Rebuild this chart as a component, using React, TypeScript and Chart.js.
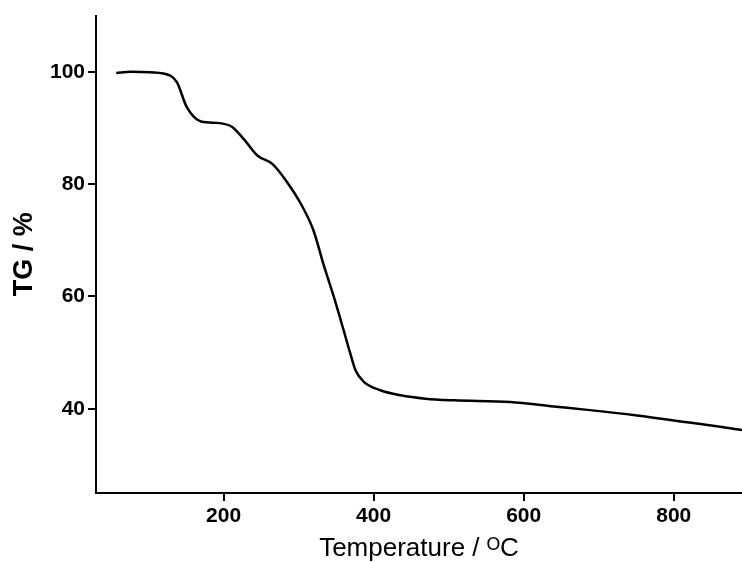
import React, { useEffect, useRef } from "react";
import { Chart, registerables } from "chart.js";

Chart.register(...registerables);

const temperature = [57, 76, 102, 129, 138, 151, 171, 191, 211, 227, 245, 265, 285, 303, 320, 333, 347, 360, 369, 376, 387, 409, 436, 469, 507, 582, 640, 685, 751, 818, 862, 891];
const tgPercent = [99.8, 100, 99.9, 99.3, 98.1, 93.7, 91.1, 90.9, 90.2, 88.0, 85.1, 83.6, 80.3, 76.5, 71.7, 65.8, 59.9, 54.0, 49.8, 46.8, 44.8, 43.3, 42.4, 41.8, 41.5, 41.2, 40.4, 39.8, 38.8, 37.6, 36.8, 36.2];
const xTicks = [200, 400, 600, 800];
const yTicks = [40, 60, 80, 100];

export default function App() {
  const ref = useRef<HTMLCanvasElement | null>(null);
  useEffect(() => {
    if (!ref.current) return;
    const points = temperature.map((x, i) => ({ x, y: tgPercent[i] }));
    const chart = new Chart(ref.current, {
      type: "line",
      data: {
        datasets: [
          {
            data: points,
            borderColor: "#000",
            borderWidth: 2.5,
            pointRadius: 0,
            cubicInterpolationMode: "monotone",
            fill: false,
          },
        ],
      },
      options: {
        animation: false,
        responsive: false,
        maintainAspectRatio: false,
        layout: { padding: { top: 13, right: 0, left: 0, bottom: 0 } },
        plugins: { legend: { display: false }, tooltip: { enabled: false } },
        scales: {
          x: {
            type: "linear",
            min: 30,
            max: 891,
            afterBuildTicks: (s: any) => {
              s.ticks = xTicks.map((v) => ({ value: v }));
            },
            afterFit: (s: any) => {
              s.height = 69;
            },
            grid: { drawOnChartArea: false, drawTicks: true, tickLength: 8, color: "#000", lineWidth: 2 },
            border: { display: true, color: "#000", width: 2 },
            ticks: {
              color: "#000",
              padding: 3,
              maxRotation: 0,
              font: { family: "Liberation Sans", size: 21, weight: "bold" },
            },
            title: {
              display: true,
              text: "Temperature / ᴼC",
              color: "#000",
              padding: { top: 0, bottom: -2 },
              font: { family: "Liberation Sans", size: 26, weight: "normal" },
            },
          },
          y: {
            type: "linear",
            min: 25,
            max: 110,
            afterBuildTicks: (s: any) => {
              s.ticks = yTicks.map((v) => ({ value: v }));
            },
            afterFit: (s: any) => {
              s.width = 96;
            },
            grid: { drawOnChartArea: false, drawTicks: true, tickLength: 8, color: "#000", lineWidth: 2 },
            border: { display: true, color: "#000", width: 2 },
            ticks: {
              color: "#000",
              padding: 3,
              font: { family: "Liberation Sans", size: 21, weight: "bold" },
            },
            title: {
              display: true,
              text: "TG / %",
              color: "#000",
              padding: { top: 8, bottom: 0 },
              font: { family: "Liberation Sans", size: 27, weight: "bold" },
            },
          },
        },
      },
    });
    return () => chart.destroy();
  }, []);
  return (
    <div style={{ position: "fixed", left: 0, top: 0, width: 742, height: 562, background: "#fff" }}>
      <canvas ref={ref} width={742} height={562} style={{ width: 742, height: 562 }} />
    </div>
  );
}
